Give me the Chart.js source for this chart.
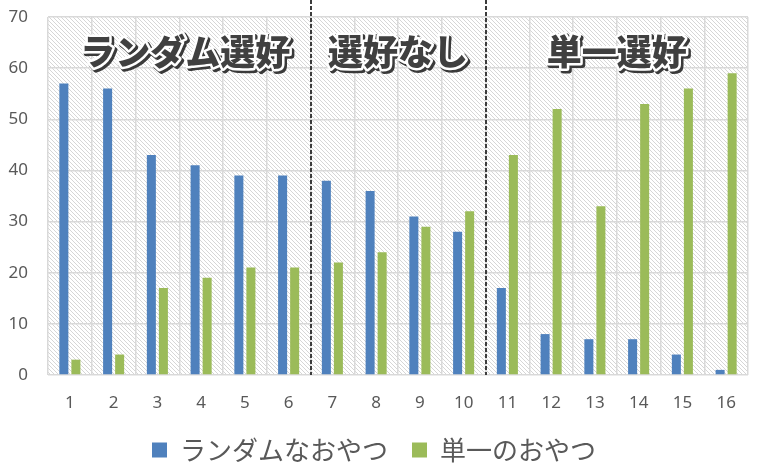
<!DOCTYPE html>
<html>
<head>
<meta charset="utf-8">
<script src="https://cdn.jsdelivr.net/npm/chart.js@4"></script>
<style>
  html, body { margin: 0; padding: 0; background: #fff; }
  #wrap { width: 764px; height: 470px; }
</style>
</head>
<body>
<div id="wrap"><canvas id="chart" width="764" height="470"></canvas></div>
<script>
// Data
const categories = ["1", "2", "3", "4", "5", "6", "7", "8", "9", "10", "11", "12", "13", "14", "15", "16"];
const randomSnack = [57, 56, 43, 41, 39, 39, 38, 36, 31, 28, 17, 8, 7, 7, 4, 1];
const singleSnack = [3, 4, 17, 19, 21, 21, 22, 24, 29, 32, 43, 52, 33, 53, 56, 59];
const seriesNames = ["ランダムなおやつ", "単一のおやつ"];
const sectionLabels = ["ランダム選好", "選好なし", "単一選好"];
const sectionStart = [0, 6, 10];
const sectionEnd = [5, 9, 15];

const FONT = "'Noto Sans CJK JP', 'Noto Sans', sans-serif";
const NUM_FONT = "'Noto Sans', 'Open Sans', sans-serif";

// hatched plot background (1px diagonal dots)
function makeHatch() {
    const c = document.createElement("canvas");
    c.width = 4; c.height = 4;
    const g = c.getContext("2d");
    g.fillStyle = "#ffffff";
    g.fillRect(0, 0, 4, 4);
    g.fillStyle = "#d6d6d6";
    for (let i = 0; i < 4; i++) g.fillRect(i, i, 1, 1);
    return c;
}

const hatchPlugin = {
    id: "hatch",
    beforeDraw(chart) {
        const { ctx, chartArea: a } = chart;
        ctx.save();
        ctx.fillStyle = ctx.createPattern(makeHatch(), "repeat");
        ctx.fillRect(a.left, a.top, a.right - a.left, a.bottom - a.top);
        ctx.restore();
    }
};

// dashed section dividers + section titles
const sectionPlugin = {
    id: "sections",
    afterDraw(chart) {
        const { ctx, chartArea: a } = chart;
        const x = chart.scales.x;
        ctx.save();
        ctx.strokeStyle = "#3c3c3c";
        ctx.lineWidth = 2;
        ctx.setLineDash([4, 2]);
        for (let i = 1; i < sectionStart.length; i++) {
            const px = Math.round((x.getPixelForValue(sectionStart[i] - 1) + x.getPixelForValue(sectionStart[i])) / 2);
            ctx.beginPath();
            ctx.moveTo(px, 0);
            ctx.lineTo(px, a.bottom);
            ctx.stroke();
        }
        ctx.setLineDash([]);

        ctx.font = "900 35px " + FONT;
        ctx.textAlign = "center";
        ctx.textBaseline = "middle";
        ctx.lineJoin = "round";
        sectionLabels.forEach((label, i) => {
            const cx = (x.getPixelForValue(sectionStart[i]) + x.getPixelForValue(sectionEnd[i])) / 2 + (i === 0 ? 6 : 0);
            const cy = a.top + 35;
            // shadow
            ctx.strokeStyle = "#3a3a3a";
            ctx.lineWidth = 6;
            ctx.strokeText(label, cx + 2, cy + 2);
            // white outline
            ctx.strokeStyle = "#ffffff";
            ctx.lineWidth = 5;
            ctx.strokeText(label, cx, cy);
            ctx.fillStyle = "#404040";
            ctx.fillText(label, cx, cy);
        });
        ctx.restore();
    }
};

new Chart(document.getElementById("chart"), {
    type: "bar",
    data: {
        labels: categories,
        datasets: [
            {
                label: seriesNames[0],
                data: randomSnack,
                backgroundColor: "#4f81bd",
                categoryPercentage: 0.55,
                barPercentage: 0.75
            },
            {
                label: seriesNames[1],
                data: singleSnack,
                backgroundColor: "#9bbb59",
                categoryPercentage: 0.55,
                barPercentage: 0.75
            }
        ]
    },
    options: {
        responsive: false,
        animation: false,
        layout: {
            padding: { top: 17, right: 16, left: 0, bottom: -3 }
        },
        plugins: {
            legend: {
                position: "bottom",
                labels: {
                    boxWidth: 15,
                    boxHeight: 15,
                    padding: 24,
                    color: "#595959",
                    font: { family: FONT, size: 26 }
                }
            },
            tooltip: { enabled: false }
        },
        scales: {
            x: {
                grid: { color: "#d9d9d9", lineWidth: 1.5, drawTicks: false },
                border: { display: false },
                ticks: {
                    color: "#595959",
                    padding: 18,
                    font: { family: NUM_FONT, size: 17 }
                },
                afterFit(scale) { scale.height = 38; }
            },
            y: {
                min: 0,
                max: 70,
                grid: { color: "#d9d9d9", lineWidth: 1.5, drawTicks: true, tickLength: 18, tickColor: "rgba(0,0,0,0)" },
                border: { display: false },
                ticks: {
                    stepSize: 10,
                    color: "#595959",
                    padding: 2,
                    font: { family: NUM_FONT, size: 17 }
                },
                afterFit(scale) { scale.width = 48; }
            }
        }
    },
    plugins: [hatchPlugin, sectionPlugin]
});
</script>
</body>
</html>
